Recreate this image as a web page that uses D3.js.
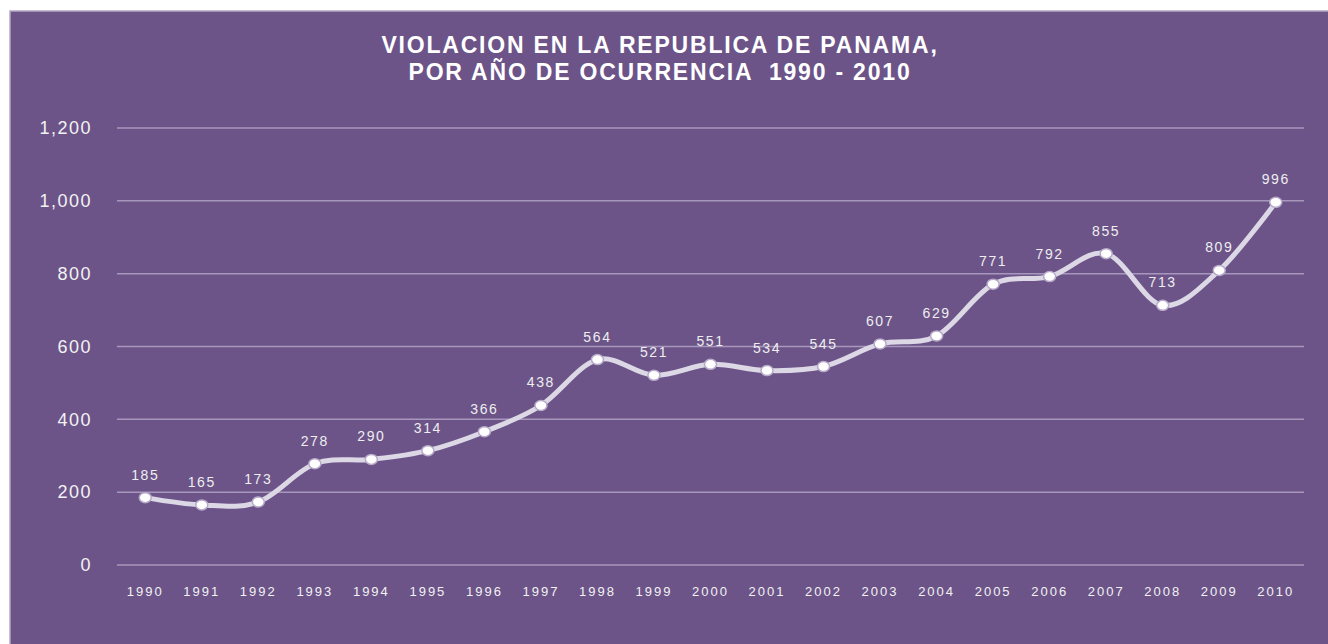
<!DOCTYPE html>
<html>
<head>
<meta charset="utf-8">
<script src="https://cdn.jsdelivr.net/npm/d3@7"></script>
<style>
  body { margin: 0; background: #fff; }
  svg { display: block; font-family: "Liberation Sans", Arial, sans-serif; }
</style>
</head>
<body>
<svg width="1328" height="644"></svg>
<script>
var years = ['1990','1991','1992','1993','1994','1995','1996','1997','1998','1999','2000',
             '2001','2002','2003','2004','2005','2006','2007','2008','2009','2010'];
var cases = [185,165,173,278,290,314,366,438,564,521,551,534,545,607,629,771,792,855,713,809,996];
var yTicks = [0,200,400,600,800,1000,1200];
var titleLines = ['VIOLACION EN LA REPUBLICA DE PANAMA,', 'POR AÑO DE OCURRENCIA  1990 - 2010'];

var svg = d3.select('svg');

// panel
svg.append('rect')
  .attr('x', 10).attr('y', 11)
  .attr('width', 1330).attr('height', 640)
  .attr('fill', '#6c5489')
  .attr('stroke', '#b3a8c4')
  .attr('stroke-width', 1.5);

svg.append('text')
  .attr('x', 660).attr('y', 53)
  .attr('text-anchor', 'middle')
  .attr('fill', '#ffffff')
  .style('font-size', '23px')
  .style('font-weight', 'bold')
  .style('letter-spacing', '1.8px')
  .style('white-space', 'pre')
  .selectAll('tspan')
  .data(titleLines)
  .enter().append('tspan')
  .attr('x', 660)
  .attr('dy', function(d, i) { return i ? 27 : 0; })
  .text(function(d) { return d; });

var x = d3.scaleBand().domain(years).range([117, 1304]);
var y = d3.scaleLinear().domain([0, 1200]).range([565, 128]);

// grid
svg.append('g').selectAll('line')
  .data(yTicks)
  .enter().append('line')
  .attr('x1', 117).attr('x2', 1304)
  .attr('y1', function(d) { return y(d); })
  .attr('y2', function(d) { return y(d); })
  .attr('stroke', '#a897bd')
  .attr('stroke-width', 1.5);

var yAxis = svg.append('g')
  .attr('transform', 'translate(92,0)')
  .call(d3.axisLeft(y).tickValues(yTicks).tickSize(0).tickPadding(0).tickFormat(d3.format(',')));
yAxis.select('.domain').remove();
yAxis.selectAll('text')
  .attr('fill', '#f2f2f2')
  .style('font-size', '18px')
  .style('letter-spacing', '1.5px')
  .style('font-family', '"Liberation Sans", Arial, sans-serif');

var xAxis = svg.append('g')
  .attr('transform', 'translate(0,583)')
  .call(d3.axisBottom(x).tickSize(0).tickPadding(0));
xAxis.select('.domain').remove();
xAxis.selectAll('text')
  .attr('fill', '#f2f2f2')
  .attr('dy', '1em')
  .style('font-size', '13px')
  .style('letter-spacing', '2px')
  .style('font-family', '"Liberation Sans", Arial, sans-serif');

var cx = function(d, i) { return x(years[i]) + x.bandwidth() / 2; };

var line = d3.line()
  .x(function(d, i) { return cx(d, i); })
  .y(function(d) { return y(d); })
  .curve(d3.curveCardinal.tension(0));

svg.append('path')
  .datum(cases)
  .attr('d', line)
  .attr('fill', 'none')
  .attr('stroke', '#ddd8e6')
  .attr('stroke-width', 5)
  .attr('stroke-linecap', 'round');

svg.append('g').selectAll('ellipse')
  .data(cases)
  .enter().append('ellipse')
  .attr('cx', cx)
  .attr('cy', function(d) { return y(d); })
  .attr('rx', 6).attr('ry', 5)
  .attr('fill', '#ffffff')
  .attr('stroke', '#b7aac8')
  .attr('stroke-width', 1.5);

svg.append('g').selectAll('text')
  .data(cases)
  .enter().append('text')
  .attr('x', cx)
  .attr('y', function(d) { return y(d) - 18; })
  .attr('text-anchor', 'middle')
  .attr('fill', '#eeeeee')
  .style('font-size', '14px')
  .style('letter-spacing', '1.6px')
  .text(function(d) { return d; });
</script>
</body>
</html>
